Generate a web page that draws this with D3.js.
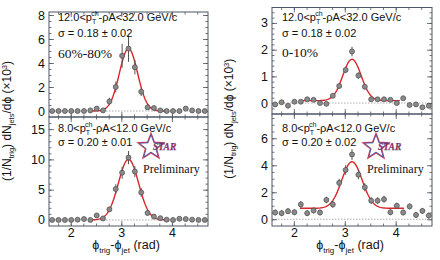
<!DOCTYPE html>
<html><head><meta charset="utf-8">
<script src="https://cdn.jsdelivr.net/npm/d3@7"></script>
<style>body{margin:0;background:#fff}svg{display:block}</style>
</head><body>
<svg id="c" width="440" height="260"></svg>
<script>
// ---------- data ----------
const nBins = 25;
const phiTicks = [2, 3, 4];
// 60%-80%
const tlVals = [0,0,0,0,0,0,0.05,0.2,0.05,0.8,2.0,4.6,5.2,3.65,1.6,0.3,0.25,0.05,0,0,0,0.2,0.05,0,0];
const tlErrs = [0.05,0.05,0.05,0.05,0.05,0.05,0.05,0.1,0.1,0.3,0.45,1.0,1.1,0.6,0.35,0.15,0.1,0.05,0.05,0.05,0.05,0.1,0.05,0.05,0.05];
const blVals = [0,0,0,0,0.05,0.15,0,0.75,0.25,1.75,5.1,7.8,10.3,8.0,4.55,1.15,0.55,0.3,0.05,0,0.2,0.15,0.05,0,0];
const blErrs = [0.1,0.1,0.1,0.1,0.1,0.1,0.1,0.3,0.2,0.4,0.8,1.0,1.1,0.9,0.7,0.4,0.2,0.15,0.1,0.1,0.1,0.1,0.1,0.1,0.1];
// 0-10%
const trVals = [-0.05,0.03,-0.1,0.05,0.05,0.14,0.12,0.0,-0.03,0.27,0.64,1.24,1.93,1.03,0.61,0.14,0.14,0.14,0.12,0.0,0.18,-0.07,-0.05,-0.16,-0.1];
const trErrs = [0.06,0.06,0.06,0.06,0.06,0.06,0.06,0.06,0.06,0.08,0.1,0.12,0.18,0.12,0.1,0.07,0.06,0.06,0.06,0.06,0.06,0.06,0.06,0.06,0.06];
const brVals = [0.5,0.45,0.6,0.52,1.1,0.45,0.65,0.5,1.43,1.1,2.7,3.65,4.8,3.3,2.37,1.38,1.38,1.48,0.52,1.0,0.5,0.95,0.32,0.62,0.27];
const brErrs = [0.22,0.22,0.22,0.22,0.25,0.22,0.22,0.22,0.25,0.25,0.3,0.35,0.4,0.35,0.3,0.25,0.25,0.25,0.22,0.22,0.22,0.22,0.22,0.22,0.22];
// Gaussian fit parameters: [baseline, amplitude, sigma, from, to]
const tlFit = [0, 5.2, 0.18, 2.36, 3.93];
const blFit = [0, 10.0, 0.20, 2.36, 3.93];
const trFit = [0.09, 1.55, 0.18, 2.15, 4.08];
const brFit = [0.81, 3.45, 0.20, 2.12, 4.16];
const ptLabels = ["12.0", "32.0", "8.0", "12.0"];
const sigmaLabels = ["σ = 0.18 ± 0.02", "σ = 0.20 ± 0.01", "σ = 0.18 ± 0.02", "σ = 0.20 ± 0.02"];
const centLabels = ["60%-80%", "0-10%"];

// ---------- layout ----------
const svg = d3.select("#c");
const font = "'Liberation Sans', Arial, Helvetica, sans-serif";
const serif = "'Liberation Serif', 'Times New Roman', serif";
const axisCol = "#4d5566";

const cols = [
  {x0: 49, x1: 208, top: 12, mid: 117, bot: 226, titleX: 11, xTitle: 126, txtX: 58, centX: 58, centY: 58, cent: centLabels[0], starX: 151, prelimX: 143},
  {x0: 272, x1: 432, top: 7.5, mid: 114, bot: 226, titleX: 233, xTitle: 350, txtX: 282, centX: 282, centY: 57, cent: centLabels[1], starX: 376, prelimX: 367}
];
const panels = [
  {c: 0, row: 0, vals: tlVals, errs: tlErrs, fit: tlFit, dom: [-0.5, 8.25], major: [0,2,4,6,8], minorStep: 0.5, pt: [ptLabels[0], ptLabels[1]], sig: sigmaLabels[0]},
  {c: 0, row: 1, vals: blVals, errs: blErrs, fit: blFit, dom: [-1, 17], major: [0,5,10,15], minorStep: 1, pt: [ptLabels[2], ptLabels[3]], sig: sigmaLabels[1]},
  {c: 1, row: 0, vals: trVals, errs: trErrs, fit: trFit, dom: [-0.41, 3.58], major: [0,1,2,3], minorStep: 0.2, pt: [ptLabels[0], ptLabels[1]], sig: sigmaLabels[2]},
  {c: 1, row: 1, vals: brVals, errs: brErrs, fit: brFit, dom: [-0.5, 7.8], major: [0,2,4,6], minorStep: 0.5, pt: [ptLabels[2], ptLabels[3]], sig: sigmaLabels[3]}
];
const rowText = [{pt: 20.7, sig: 36.5}, {pt: 131.5, sig: 146}];

function range(a, b, s) { const out = []; for (let v = Math.ceil(a / s - 1e-9) * s; v <= b + 1e-9; v += s) out.push(+v.toFixed(6)); return out; }

panels.forEach(p => {
  const col = cols[p.c];
  const yTop = p.row === 0 ? col.top : col.mid;
  const yBot = p.row === 0 ? col.mid : col.bot;
  const x = d3.scaleLinear().domain([Math.PI / 2, 3 * Math.PI / 2]).range([col.x0, col.x1]);
  const y = d3.scaleLinear().domain(p.dom).range([yBot, yTop]);
  const g = svg.append("g");
  const w = col.x1 - col.x0, h = yBot - yTop;

  // zero line
  g.append("line").attr("x1", col.x0).attr("x2", col.x1).attr("y1", y(0)).attr("y2", y(0))
    .attr("stroke", "#999").attr("stroke-width", 0.8).attr("stroke-dasharray", "1.5,1.5");

  // ticks (all four sides, inward)
  const xMinor = range(1.6, 4.7, 0.25).filter(v => x(v) > col.x0 + 0.5 && x(v) < col.x1 - 0.5);
  const yMinor = range(p.dom[0], p.dom[1], p.minorStep).filter(v => y(v) < yBot - 0.5 && y(v) > yTop + 0.5);
  const mkAxis = (axisFn, sc, vals, size, tr) => {
    const a = g.append("g").attr("transform", tr)
      .call(axisFn(sc).tickValues(vals).tickSize(size).tickFormat(""));
    a.select(".domain").remove();
    a.selectAll("line").attr("stroke", axisCol).attr("stroke-width", 0.8);
  };
  const xMaj = phiTicks, yMaj = p.major.filter(v => y(v) < yBot - 0.5 && y(v) > yTop + 0.5);
  mkAxis(d3.axisBottom, x, xMaj, -5, `translate(0,${yBot})`);
  mkAxis(d3.axisBottom, x, xMinor, -2.5, `translate(0,${yBot})`);
  mkAxis(d3.axisTop, x, xMaj, -5, `translate(0,${yTop})`);
  mkAxis(d3.axisTop, x, xMinor, -2.5, `translate(0,${yTop})`);
  mkAxis(d3.axisLeft, y, yMaj, -5, `translate(${col.x0},0)`);
  mkAxis(d3.axisLeft, y, yMinor, -2.5, `translate(${col.x0},0)`);
  mkAxis(d3.axisRight, y, yMaj, -5, `translate(${col.x1},0)`);
  mkAxis(d3.axisRight, y, yMinor, -2.5, `translate(${col.x1},0)`);

  // y tick labels
  const yl = g.append("g").attr("transform", `translate(${col.x0},0)`)
    .call(d3.axisLeft(y).tickValues(p.major).tickSize(0).tickPadding(4).tickFormat(d3.format("d")));
  yl.select(".domain").remove();
  yl.selectAll("text").attr("font-family", font).attr("font-size", 12.5).attr("fill", "#111");

  // x tick labels on bottom row
  if (p.row === 1) {
    const xl = g.append("g").attr("transform", `translate(0,${yBot})`)
      .call(d3.axisBottom(x).tickValues(phiTicks).tickSize(0).tickPadding(2).tickFormat(d3.format("d")));
    xl.select(".domain").remove();
    xl.selectAll("text").attr("font-family", font).attr("font-size", 12.5).attr("fill", "#111");
  }

  // frame
  g.append("rect").attr("x", col.x0).attr("y", yTop).attr("width", w).attr("height", h)
    .attr("fill", "none").attr("stroke", axisCol).attr("stroke-width", 1);

  // fit
  const [b0, amp, sig, f0, f1] = p.fit;
  const fx = d3.range(f0, f1 + 1e-9, (f1 - f0) / 120);
  g.append("path").datum(fx)
    .attr("d", d3.line().x(v => x(v)).y(v => y(b0 + amp * Math.exp(-0.5 * Math.pow((v - Math.PI) / sig, 2)))))
    .attr("fill", "none").attr("stroke", "#d8262a").attr("stroke-width", 1.4);

  // data points
  const bw = Math.PI / nBins;
  const pts = p.vals.map((v, i) => ({x: Math.PI / 2 + (i + 0.5) * bw, y: v, e: p.errs[i]}));
  g.selectAll(".eb").data(pts).join("line")
    .attr("x1", d => x(d.x)).attr("x2", d => x(d.x))
    .attr("y1", d => y(d.y - d.e)).attr("y2", d => y(d.y + d.e))
    .attr("stroke", "#555").attr("stroke-width", 1);
  g.selectAll(".pt").data(pts).join("circle")
    .attr("cx", d => x(d.x)).attr("cy", d => y(d.y)).attr("r", 2.5)
    .attr("fill", "#8a8a8a").attr("stroke", "#4a4a4a").attr("stroke-width", 0.7);

  // annotation texts
  const rt = rowText[p.row];
  const t1 = g.append("text").attr("x", col.txtX).attr("y", rt.pt)
    .attr("font-family", font).attr("font-size", 11).attr("fill", "#111");
  t1.append("tspan").text(p.pt[0] + "<p");
  t1.append("tspan").attr("font-size", 7).attr("dy", 3).text("T");
  t1.append("tspan").attr("font-size", 7).attr("dx", -4.3).attr("dy", -8).text("ch");
  t1.append("tspan").attr("dy", 5).text("-ρA<" + p.pt[1] + " GeV/c");
  g.append("text").attr("x", col.txtX).attr("y", rt.sig)
    .attr("font-family", font).attr("font-size", 11).attr("fill", "#111").text(p.sig);

  if (p.row === 0) {
    g.append("text").attr("x", col.centX).attr("y", col.centY)
      .attr("font-family", serif).attr("font-size", 13.5).attr("fill", "#111").text(col.cent);
  } else {
    // STAR logo
    const cx = col.starX, cy = 147;
    const star = (R, r) => d3.range(10).map(k => {
      const a = -Math.PI / 2 + k * Math.PI / 5, rr = k % 2 ? r : R;
      return [cx + rr * Math.cos(a), cy + rr * Math.sin(a)];
    });
    g.append("polygon").attr("points", star(14, 6).join(" ")).attr("fill", "none")
      .attr("stroke", "#d04050").attr("stroke-width", 1.1);
    g.append("polygon").attr("points", star(12.2, 5.1).join(" ")).attr("fill", "none")
      .attr("stroke", "#3040a0").attr("stroke-width", 0.8);
    g.append("text").attr("x", cx + 2).attr("y", cy + 3)
      .attr("font-family", serif).attr("font-style", "italic").attr("font-weight", "bold")
      .attr("font-size", 9.5).attr("fill", "#b02848").attr("stroke", "#3040a0").attr("stroke-width", 0.25)
      .text("STAR");
    g.append("text").attr("x", col.prelimX).attr("y", 173)
      .attr("font-family", serif).attr("font-size", 12).attr("fill", "#111").text("Preliminary");
  }
});

// axis titles
cols.forEach(col => {
  const yt = svg.append("text")
    .attr("transform", `translate(${col.titleX},${(col.top + col.bot) / 2 + 2}) rotate(-90)`)
    .attr("text-anchor", "middle").attr("font-family", font).attr("font-size", 12).attr("fill", "#111");
  yt.append("tspan").text("(1/N");
  yt.append("tspan").attr("font-size", 7.5).attr("dy", 3).text("trig");
  yt.append("tspan").attr("dy", -3).text(") dN");
  yt.append("tspan").attr("font-size", 7.5).attr("dy", 3).text("jets");
  yt.append("tspan").attr("dy", -3).text("/dϕ (×10");
  yt.append("tspan").attr("font-size", 7.5).attr("dy", -4).text("3");
  yt.append("tspan").attr("dy", 4).text(")");

  const xt = svg.append("text").attr("x", col.xTitle).attr("y", 249)
    .attr("text-anchor", "middle").attr("font-family", font).attr("font-size", 12.5).attr("fill", "#111");
  xt.append("tspan").text("ϕ");
  xt.append("tspan").attr("font-size", 8).attr("dy", 3.5).text("trig");
  xt.append("tspan").attr("dy", -3.5).text("-ϕ");
  xt.append("tspan").attr("font-size", 8).attr("dy", 3.5).text("jet");
  xt.append("tspan").attr("dy", -3.5).text(" (rad)");
});
</script>
</body></html>
